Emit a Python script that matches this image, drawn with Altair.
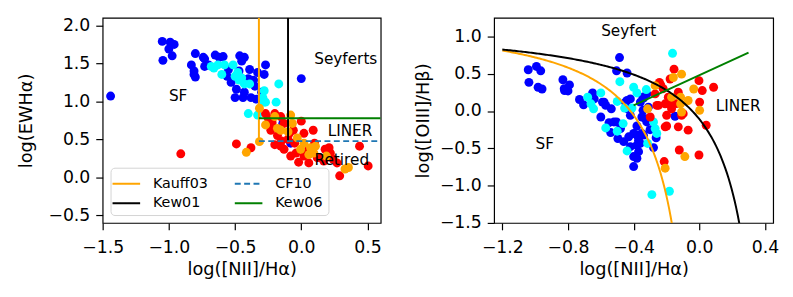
import altair as alt
import numpy as np
import pandas as pd

# ---------------- Left panel (WHAN) points ----------------
blue_L_x = [-1.05, -0.99, -0.96, -1.00, -0.975, -1.045, -1.44,
            -0.80, -0.74, -0.73, -0.83, -0.81, -0.81, -0.80, -0.70,
            -0.65, -0.59, -0.62, -0.465, -0.43, -0.45, -0.73, -0.55, -0.53, -0.49, -0.50,
            -0.39, -0.33, -0.27, -0.28, -0.43, -0.38, -0.35, -0.44, -0.34, -0.30, -0.44,
            -0.56, -0.47, -0.40, -0.36, 0.0, -0.08, -0.14]
blue_L_y = [1.79, 1.78, 1.75, 1.69, 1.60, 1.54, 1.07,
            1.63, 1.58, 1.56, 1.48, 1.40, 1.355, 1.32, 1.48,
            1.61, 1.59, 1.58, 1.60, 1.58, 1.53, 1.46, 1.42, 1.25, 1.16, 1.05,
            1.42, 1.38, 1.48, 1.355, 1.12, 1.05, 1.20, 1.29, 1.03, 1.12, 1.05,
            1.33, 1.40, 1.30, 1.28, 1.30, 0.45, 0.71]
cyan_L_x = [-0.68, -0.63, -0.58, -0.515, -0.60, -0.48, -0.45, -0.50, -0.43, -0.39,
            -0.28, -0.29, -0.27, -0.17, -0.19, -0.40, -0.33, -0.66, -0.28, -0.47]
cyan_L_y = [1.46, 1.48, 1.48, 1.48, 1.355, 1.38, 1.31, 1.33, 1.23, 1.23,
            1.14, 1.05, 0.99, 1.23, 0.99, 0.84, 0.82, 1.44, 0.99, 1.28]
red_L_x = [-0.91, -0.49, -0.38, -0.27, -0.20, -0.155, -0.23, -0.13, -0.09, 0.0,
           0.09, 0.02, -0.20, -0.155, -0.13, -0.04, 0.02, 0.12, 0.18, 0.22,
           0.17, 0.24, 0.27, 0.44, 0.505, 0.29, 0.057, -0.08, 0.21, 0.14,
           -0.10, -0.18, -0.05, 0.10, -0.15, -0.22, -0.25, -0.06, 0.05, -0.02]
red_L_y = [0.31, 0.44, 0.39, 0.84, 0.84, 0.80, 0.62, 0.71, 0.58, 0.74,
           0.62, 0.58, 0.43, 0.41, 0.37, 0.32, 0.28, 0.26, 0.37, 0.32,
           0.215, 0.24, 0.19, 0.41, 0.15, 0.02, 0.19, 0.28, 0.39, 0.26,
           0.50, 0.55, 0.45, 0.45, 0.48, 0.72, 0.78, 0.62, 0.35, 0.20]
orange_L_x = [-0.316, -0.27, -0.18, -0.155, -0.316, -0.415, -0.03, 0.02, -0.005, 0.07,
              0.107, 0.095, 0.057, 0.33, 0.356, -0.20, -0.08, -0.067, 0.19, -0.10]
orange_L_y = [0.91, 0.69, 0.645, 0.62, 0.47, 0.33, 0.52, 0.45, 0.37, 0.39,
              0.41, 0.32, 0.30, 0.11, 0.13, 0.80, 0.82, 0.71, 0.28, 0.60]

# ---------------- Right panel (BPT) points ----------------
blue_R_x = [-1.042, -0.992, -0.966, -1.038, -0.982, -0.958, -0.831, -0.791, -0.821, -0.823, -0.80,
            -0.486, -0.504, -0.44,
            -0.73, -0.705, -0.65, -0.64, -0.58, -0.536, -0.60, -0.55, -0.504, -0.54, -0.496,
            -0.43, -0.46, -0.42, -0.38, -0.40, -0.38, -0.40, -0.37, -0.34, -0.279, -0.263,
            -0.35, -0.32, -0.343, -0.359, -0.42, -0.45, -0.436, -0.42, -0.34, -0.148,
            -0.57, -0.59, -0.44, -0.343, -0.33, -0.38, -0.35, -0.36, -0.52, -0.48, -0.40,
            -0.37, -0.31, -0.32, -0.38, -0.30]
blue_R_y = [0.554, 0.598, 0.54, 0.385, 0.319, 0.296, 0.42, 0.35, 0.275, 0.30, 0.27,
            0.717, 0.54, 0.51,
            0.155, 0.084, 0.243, 0.163, 0.12, 0.03, -0.08, -0.155, -0.146, -0.288, -0.368,
            -0.345, -0.41, -0.478, -0.456, -0.61, -0.633, -0.744, -0.545, -0.323, -0.49, -0.358,
            -0.08, -0.146, 0.01, 0.12, 0.163, 0.12, 0.03, -0.057, 0.173, -0.07,
            0.076, 0.12, 0.142, 0.186, -0.102, -0.323, -0.30, -0.434, -0.146, -0.235, -0.30,
            -0.39, 0.053, 0.23, -0.20, -0.25]
cyan_R_x = [-0.484, -0.40, -0.38, -0.323, -0.68, -0.66, -0.644, -0.60, -0.50, -0.455, -0.41,
            -0.57, -0.50, -0.464, -0.44, -0.315, -0.279, -0.269, -0.259, -0.289, -0.182, -0.163]
cyan_R_y = [0.394, 0.319, 0.243, 0.288, 0.186, 0.097, 0.03, 0.243, 0.129, 0.04, 0.04,
            -0.226, -0.27, -0.168, -0.535, -0.434, -0.146, -0.235, -0.30, -1.12, -1.075, 0.774]
red_R_x = [-0.154, -0.178, -0.002, 0.087, 0.018, 0.002, 0.042, -0.098, -0.068, -0.128,
           -0.208, -0.243, -0.269, -0.259, -0.208, -0.169, -0.122, -0.002, -0.214, -0.235,
           -0.249, -0.175, -0.128, -0.189, -0.199, -0.199, -0.108, -0.299, -0.14, -0.22]
red_R_y = [0.562, 0.43, 0.408, 0.319, 0.275, 0.12, -0.19, -0.035, -0.256, -0.212,
           -0.212, 0.385, 0.23, 0.076, 0.097, 0.03, -0.522, -0.589, -0.677, 0.35,
           0.076, 0.084, 0.252, 0.186, -0.057, -0.20, -0.057, -0.08, 0.10, 0.30]
orange_R_x = [-0.108, -0.158, -0.269, -0.034, -0.169, -0.114, -0.068, -0.114, -0.108,
              0.002, -0.315, -0.088, -0.208]
orange_R_y = [0.495, 0.45, 0.341, 0.296, 0.186, 0.186, 0.142, 0.097, -0.013,
              0.01, 0.03, -0.61, -0.766]

# ---------------- Demarcation lines ----------------
line_names = ["Kauff03", "Kew01", "CF10", "Kew06"]
line_colors = ["#ffa500", "#000000", "#1f77b4", "#008000"]
line_dashes = [[1, 0], [1, 0], [6, 3.5], [1, 0]]

# WHAN (left) line endpoints
whan_name = ["Kauff03", "Kauff03", "Kew01", "Kew01", "CF10", "CF10", "Kew06", "Kew06"]
whan_x = [-0.32, -0.32, -0.10, -0.10, -0.32, 0.60, -0.32, 0.60]
whan_y = [0.477, 2.10, 0.477, 2.10, 0.477, 0.477, 0.778, 0.778]

# BPT (right) demarcation curve coefficients
KAUFF_A, KAUFF_B, KAUFF_C = 0.61, 0.05, 1.30
KEW01_A, KEW01_B, KEW01_C = 0.61, 0.47, 1.19
KEW06_M, KEW06_C = 1.01, 0.48

# Region labels
left_text = ["SF", "Seyferts", "LINER", "Retired"]
left_tx = [-0.93, 0.336, 0.368, 0.306]
left_ty = [1.065, 1.557, 0.615, 0.224]
right_text = ["Seyfert", "LINER", "SF"]
right_tx = [-0.43, 0.237, -0.941]
right_ty = [1.072, 0.062, -0.442]

FONT = "DejaVu Sans"
CLASS_COLORS = {"blue": "#0000ff", "cyan": "#00ffff", "red": "#ff0000", "orange": "#ffa500"}


def points_df(groups):
    rows = []
    for cname, xs, ys in groups:
        for x, y in zip(xs, ys):
            rows.append({"x": x, "y": y, "c": CLASS_COLORS[cname]})
    return pd.DataFrame(rows)


left_pts = points_df([("blue", blue_L_x, blue_L_y), ("cyan", cyan_L_x, cyan_L_y),
                      ("red", red_L_x, red_L_y), ("orange", orange_L_x, orange_L_y)])
right_pts = points_df([("blue", blue_R_x, blue_R_y), ("cyan", cyan_R_x, cyan_R_y),
                       ("red", red_R_x, red_R_y), ("orange", orange_R_x, orange_R_y)])

whan_lines = pd.DataFrame({"name": whan_name, "x": whan_x, "y": whan_y,
                           "o": list(range(len(whan_x)))})

xk = np.linspace(-1.2, -0.12, 120)
xk1 = np.linspace(-1.2, 0.30, 160)
xk6 = np.array([-0.40, 0.30])
bpt_lines = pd.concat([
    pd.DataFrame({"name": "Kauff03", "c": "#ffa500", "x": xk,
                  "y": KAUFF_A / (xk - KAUFF_B) + KAUFF_C}),
    pd.DataFrame({"name": "Kew01", "c": "#000000", "x": xk1,
                  "y": KEW01_A / (xk1 - KEW01_B) + KEW01_C}),
    pd.DataFrame({"name": "Kew06", "c": "#008000", "x": xk6,
                  "y": KEW06_M * xk6 + KEW06_C}),
], ignore_index=True)
bpt_lines["o"] = range(len(bpt_lines))

PT_SIZE = 82


def axis_x(values, title):
    return alt.Axis(values=values, format=".1f", title=title, labelFlush=False,
                    labelOverlap=False)


def axis_y(values, title, tpad):
    return alt.Axis(values=values, format=".1f", title=title, labelOverlap=False,
                    titlePadding=tpad)


# ---------------- Left chart ----------------
lx = alt.Scale(domain=[-1.5, 0.6], nice=False, zero=False)
ly = alt.Scale(domain=[-0.6, 2.1], nice=False, zero=False)

left_points = alt.Chart(left_pts).mark_circle(size=PT_SIZE, opacity=1).encode(
    x=alt.X("x:Q", scale=lx, axis=axis_x([-1.5, -1.0, -0.5, 0.0, 0.5], "log([NII]/Hα)")),
    y=alt.Y("y:Q", scale=ly, axis=axis_y([-0.5, 0.0, 0.5, 1.0, 1.5, 2.0], "log(EWHα)", 13)),
    color=alt.Color("c:N", scale=None),
)

leg = alt.Legend(title=None, orient="none", legendX=8, legendY=152, columns=2,
                 symbolType="M-1.4,0H1.4", symbolSize=400, symbolStrokeWidth=2,
                 labelFont=FONT, labelFontSize=14.5, labelColor="black",
                 fillColor="white", strokeColor="#d3d3d3", cornerRadius=4,
                 padding=5, rowPadding=2, columnPadding=23, labelOffset=16)

left_lines = alt.Chart(whan_lines).mark_line(strokeWidth=2, clip=True).encode(
    x=alt.X("x:Q", scale=lx),
    y=alt.Y("y:Q", scale=ly),
    order="o:Q",
    detail="name:N",
    color=alt.Color("name:N", scale=alt.Scale(domain=line_names, range=line_colors), legend=leg),
    strokeDash=alt.StrokeDash("name:N", scale=alt.Scale(domain=line_names, range=line_dashes),
                              legend=leg),
)

left_txt = alt.Chart(pd.DataFrame({"t": left_text, "x": left_tx, "y": left_ty})).mark_text(
    font=FONT, fontSize=15.5, color="black", align="center", baseline="middle"
).encode(x=alt.X("x:Q", scale=lx), y=alt.Y("y:Q", scale=ly), text="t:N")

left = alt.layer(left_points, left_lines, left_txt).properties(width=282, height=208)

# ---------------- Right chart ----------------
rx = alt.Scale(domain=[-1.25, 0.45], nice=False, zero=False)
ry = alt.Scale(domain=[-1.5, 1.25], nice=False, zero=False)

right_points = alt.Chart(right_pts).mark_circle(size=PT_SIZE, opacity=1).encode(
    x=alt.X("x:Q", scale=rx, axis=axis_x([-1.2, -0.8, -0.4, 0.0, 0.4], "log([NII]/Hα)")),
    y=alt.Y("y:Q", scale=ry, axis=axis_y([-1.5, -1.0, -0.5, 0.0, 0.5, 1.0], "log([OIII]/Hβ)", 7)),
    color=alt.Color("c:N", scale=None),
)

right_lines = alt.Chart(bpt_lines).mark_line(strokeWidth=2, clip=True).encode(
    x=alt.X("x:Q", scale=rx),
    y=alt.Y("y:Q", scale=ry),
    order="o:Q",
    detail="name:N",
    color=alt.Color("c:N", scale=None),
)

right_txt = alt.Chart(pd.DataFrame({"t": right_text, "x": right_tx, "y": right_ty})).mark_text(
    font=FONT, fontSize=15.5, color="black", align="center", baseline="middle"
).encode(x=alt.X("x:Q", scale=rx), y=alt.Y("y:Q", scale=ry), text="t:N")

right = alt.layer(right_points, right_lines, right_txt).properties(width=283, height=208)

chart = alt.hconcat(left, right, spacing=31).resolve_scale(
    color="independent", strokeDash="independent"
).properties(
    padding={"left": 8, "top": 6, "right": 5, "bottom": 5}
).configure_view(
    stroke="black", strokeWidth=1.2
).configure_axis(
    domain=False, grid=False, ticks=True, tickSize=7, tickWidth=1.2, tickColor="black",
    labelFont=FONT, labelFontSize=17.5, labelColor="black",
    titleFont=FONT, titleFontSize=18, titleFontWeight="normal", titleColor="black",
).configure_axisX(
    labelPadding=9, titlePadding=5
).configure_axisY(
    labelPadding=6
)

chart.save("out.html", embed_options={"renderer": "svg", "actions": False})
